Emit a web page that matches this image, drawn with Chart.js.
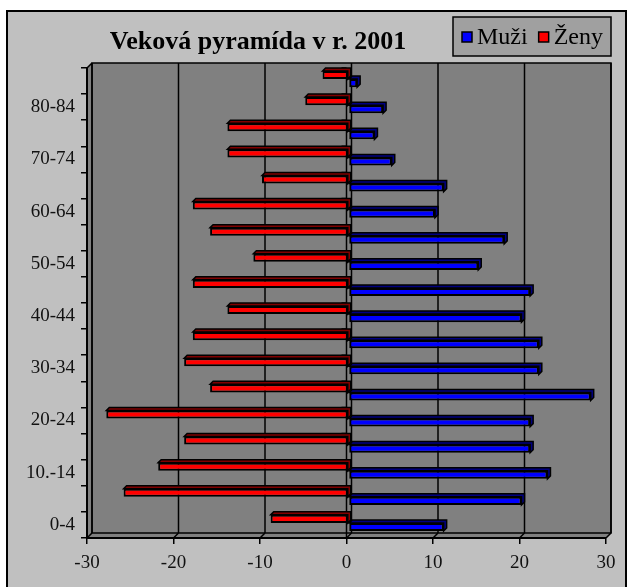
<!DOCTYPE html>
<html>
<head>
<meta charset="utf-8">
<script src="https://cdn.jsdelivr.net/npm/chart.js@4"></script>
<style>
  html, body { margin: 0; padding: 0; background: #fff; }
</style>
</head>
<body>
<canvas id="pyramid" width="628" height="587"></canvas>
<script>
// vekové skupiny odspodu nahor
const ageGroups = ['0-4', '5-9', '10.-14', '15-19', '20-24', '25-29', '30-34', '35-39', '40-44',
                   '45-49', '50-54', '55-59', '60-64', '65-69', '70-74', '75-79', '80-84', '85+'];
const muzi = [11, 20, 23, 21, 21, 28, 22, 22, 20, 21, 15, 18, 10, 11, 5, 3, 4, 1];
const zeny = [-9, -26, -22, -19, -28, -16, -19, -18, -14, -18, -11, -16, -18, -10, -14, -14, -5, -3];
const xTicks = [-30, -20, -10, 0, 10, 20, 30];
const titleText = 'Veková pyramída v r. 2001';

const serif = '"Liberation Serif", "Times New Roman", serif';
const depth = 5;     // hĺbka steny
const barDepth = 3;  // hĺbka stĺpcov

// pozadie, steny a mriežka v štýle 3D grafu
const walls = {
    id: 'walls',
    beforeDraw(chart) {
        const { ctx, chartArea: a, scales: { x, y } } = chart;
        ctx.save();
        ctx.fillStyle = '#fff';
        ctx.fillRect(0, 0, chart.width, chart.height);
        ctx.fillStyle = '#c0c0c0';
        ctx.fillRect(7, 11, 619, 600);
        ctx.strokeStyle = '#000';
        ctx.lineWidth = 2;
        ctx.strokeRect(7, 11, 619, 600);

        // zadná stena
        ctx.fillStyle = '#808080';
        ctx.fillRect(a.left + depth, a.top - depth, a.width, a.height);
        // bočná stena a podlaha
        ctx.beginPath();
        ctx.moveTo(a.left, a.top);
        ctx.lineTo(a.left + depth, a.top - depth);
        ctx.lineTo(a.left + depth, a.bottom - depth);
        ctx.lineTo(a.right + depth, a.bottom - depth);
        ctx.lineTo(a.right, a.bottom);
        ctx.lineTo(a.left, a.bottom);
        ctx.closePath();
        ctx.fill();

        ctx.lineWidth = 1.5;
        ctx.strokeRect(a.left + depth, a.top - depth, a.width, a.height);
        ctx.beginPath();
        ctx.moveTo(a.left, a.top); ctx.lineTo(a.left + depth, a.top - depth);
        ctx.moveTo(a.left, a.bottom); ctx.lineTo(a.left + depth, a.bottom - depth);
        // mriežka na zadnej stene + šikmé spojnice na podlahe
        xTicks.forEach(v => {
            const px = x.getPixelForValue(v);
            ctx.moveTo(px + depth, a.top - depth);
            ctx.lineTo(px + depth, a.bottom - depth);
            ctx.moveTo(px, a.bottom);
            ctx.lineTo(px + depth, a.bottom - depth);
        });
        ctx.stroke();

        // nulová os vpredu s malými značkami
        const x0 = x.getPixelForValue(0);
        ctx.lineWidth = 2;
        ctx.beginPath();
        ctx.moveTo(x0, a.top);
        ctx.lineTo(x0, a.bottom);
        ctx.lineWidth = 1.5;
        for (let i = 0; i <= ageGroups.length; i++) {
            const py = a.bottom - i * a.height / ageGroups.length;
            ctx.moveTo(x0 - 5, py);
            ctx.lineTo(x0, py);
        }
        ctx.stroke();
        ctx.restore();
    },
    beforeDatasetsDraw(chart) {
        const { ctx } = chart;
        ctx.save();
        ctx.translate(2, -2);
        chart.data.datasets.forEach((ds, di) => {
            const meta = chart.getDatasetMeta(di);
            meta.data.forEach(el => {
                const l = Math.min(el.x, el.base), r = Math.max(el.x, el.base);
                const t = el.y - el.height / 2, b = el.y + el.height / 2;
                ctx.fillStyle = ds.sideColor;
                ctx.strokeStyle = '#000';
                ctx.lineWidth = 1.5;
                ctx.beginPath();
                ctx.moveTo(l, t);
                ctx.lineTo(l + barDepth, t - barDepth);
                ctx.lineTo(r + barDepth, t - barDepth);
                ctx.lineTo(r + barDepth, b - barDepth);
                ctx.lineTo(r, b);
                ctx.lineTo(r, t);
                ctx.closePath();
                ctx.fill();
                ctx.stroke();
            });
        });
    },
    afterDatasetsDraw(chart) {
        chart.ctx.restore();
    },
    afterDraw(chart) {
        const { ctx } = chart;
        ctx.save();
        ctx.fillStyle = '#000';
        ctx.font = 'bold 26px ' + serif;
        ctx.textAlign = 'center';
        ctx.textBaseline = 'middle';
        ctx.fillText(titleText, 258, 42);

        // legenda
        ctx.fillStyle = '#a0a0a0';
        ctx.fillRect(453, 17, 158, 39);
        ctx.strokeStyle = '#000';
        ctx.lineWidth = 1.5;
        ctx.strokeRect(453, 17, 158, 39);
        ctx.font = '24px ' + serif;
        ctx.textAlign = 'left';
        let lx = 462;
        ['Muži', 'Ženy'].forEach(name => {
            const ds = chart.data.datasets.find(d => d.label === name);
            ctx.fillStyle = ds.backgroundColor;
            ctx.fillRect(lx, 32, 10, 10);
            ctx.strokeRect(lx, 32, 10, 10);
            ctx.fillStyle = '#000';
            ctx.fillText(name, lx + 15, 38);
            lx += 15 + ctx.measureText(name).width + 11;
        });
        ctx.restore();
    }
};

const ctx = document.getElementById('pyramid').getContext('2d');
new Chart(ctx, {
    type: 'bar',
    data: {
        labels: ageGroups,
        datasets: [
            {
                label: 'Ženy',
                data: zeny,
                backgroundColor: '#ff0000',
                sideColor: '#800000',
                borderColor: '#000',
                borderWidth: 2,
                borderSkipped: false,
                categoryPercentage: 0.62,
                barPercentage: 1.0
            },
            {
                label: 'Muži',
                data: muzi,
                backgroundColor: '#0000ff',
                sideColor: '#000080',
                borderColor: '#000',
                borderWidth: 2,
                borderSkipped: false,
                categoryPercentage: 0.62,
                barPercentage: 1.0
            }
        ]
    },
    options: {
        indexAxis: 'y',
        responsive: false,
        animation: false,
        layout: { padding: { top: 68, right: 22, left: 0, bottom: 0 } },
        plugins: {
            legend: { display: false },
            title: { display: false },
            tooltip: { enabled: false }
        },
        scales: {
            x: {
                type: 'linear',
                min: -30,
                max: 30,
                ticks: {
                    stepSize: 10,
                    color: '#111',
                    padding: 8,
                    font: { family: serif, size: 19 }
                },
                grid: { drawOnChartArea: false, drawTicks: true, tickLength: 6, color: '#000', lineWidth: 1.5 },
                border: { display: true, color: '#000', width: 2 },
                afterFit(scale) { scale.height = 49; }
            },
            y: {
                type: 'category',
                reverse: true,
                ticks: {
                    autoSkip: false,
                    color: '#111',
                    padding: 6,
                    font: { family: serif, size: 19 },
                    callback(value) {
                        return value % 2 === 0 ? ageGroups[value] : '';
                    }
                },
                grid: { offset: true, drawOnChartArea: false, drawTicks: true, tickLength: 6, color: '#000', lineWidth: 1.5 },
                border: { display: true, color: '#000', width: 2 },
                afterFit(scale) { scale.width = 87; }
            }
        }
    },
    plugins: [walls]
});
</script>
</body>
</html>
